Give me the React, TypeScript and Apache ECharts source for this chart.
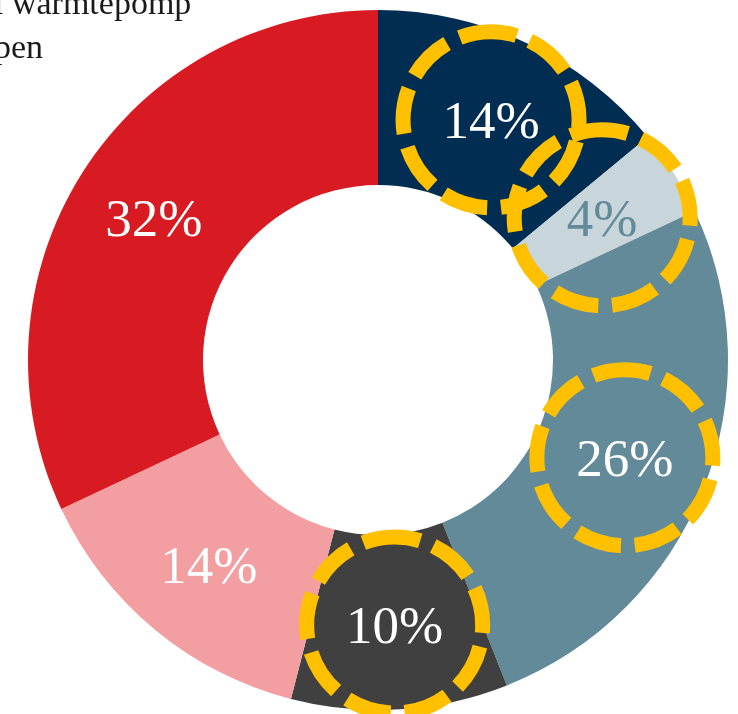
import React, { useEffect, useRef } from "react";
import * as echarts from "echarts";

const categories = ["Segment A", "Segment B", "Segment C", "Segment D", "Segment E", "Segment F"];
const values = [14, 4, 26, 10, 14, 32];
const colors = ["#022D53", "#C8D5DB", "#638A99", "#404040", "#F39FA1", "#D81B22"];
const labelColors = ["#FFFFFF", "#638A99", "#FFFFFF", "#FFFFFF", "#FFFFFF", "#FFFFFF"];
const circled = [true, true, true, true, false, false];
const legendFragments = ["l warmtepomp", "pen"];

export default function App() {
  const ref = useRef<HTMLDivElement>(null);
  useEffect(() => {
    if (!ref.current) return;
    const chart = echarts.init(ref.current, null, { renderer: "svg" });
    const data = categories.map((name, i) => {
      const label: any = {
        color: labelColors[i],
      };
      if (circled[i]) {
        Object.assign(label, {
          width: 176,
          lineHeight: 176,
          align: "center",
          verticalAlign: "middle",
          borderRadius: 88,
          borderWidth: 15,
          borderColor: "#FFC000",
          borderType: [46, 14],
          borderDashOffset: 20,
        });
      }
      return { name, value: values[i], itemStyle: { color: colors[i] }, label };
    });
    chart.setOption({
      animation: false,
      graphic: legendFragments.map((t, i) => ({
        type: "text",
        left: -6,
        top: -15 + i * 44,
        style: {
          text: t,
          font: "34px 'Liberation Serif', serif",
          fill: "#1a1a1a",
        },
        z: 10,
      })),
      series: [
        {
          type: "pie",
          center: [378, 360],
          radius: [175, 350],
          startAngle: 90,
          clockwise: true,
          silent: true,
          avoidLabelOverlap: false,
          minShowLabelAngle: 0,
          labelLayout: { hideOverlap: false },
          itemStyle: { borderWidth: 0 },
          label: {
            show: true,
            position: "inside",
            fontFamily: "'Liberation Serif', serif",
            fontSize: 53,
            formatter: (p: any) => `${Math.round(p.percent)}%`,
          },
          labelLine: { show: false },
          data,
        },
      ],
    });
    return () => chart.dispose();
  }, []);
  return (
    <div
      ref={ref}
      style={{ position: "fixed", left: 0, top: 0, width: 738, height: 714 }}
    />
  );
}
